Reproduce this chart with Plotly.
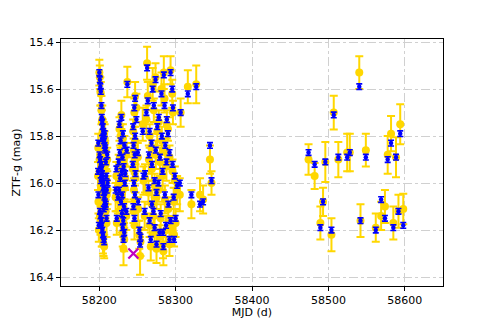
import plotly.graph_objects as go

# MJD of each epoch, ZTF-g (blue, small errors) and the second g-band set (gold)
mjd = [
    58200.2, 58200.8, 58201.5, 58202.1, 58202.9, 58203.4, 58204.0, 58204.6, 58205.3, 58205.9,
    58206.4, 58207.1, 58207.8, 58200.5, 58201.2, 58202.4, 58203.0, 58203.7, 58204.3, 58205.0,
    58205.6, 58206.2, 58206.8, 58207.5, 58208.2, 58200.9, 58201.7, 58202.6, 58203.3, 58204.1,
    58204.9, 58205.7, 58206.5, 58207.2, 58208.0, 58208.7, 58209.3, 58209.9, 58208.5, 58209.6,
    58203.8, 58202.0, 58206.0, 58198.5, 58199.0, 58198.8, 58210.5, 58211.0, 58199.5,
    58236.8, 58229.0, 58226.5, 58231.0, 58228.0, 58233.0, 58227.0, 58230.5, 58225.5, 58232.0,
    58229.5, 58227.5, 58233.5, 58226.0, 58230.0, 58228.5, 58232.5, 58229.8, 58231.5, 58230.8,
    58232.8, 58231.8, 58224.5, 58234.0, 58222.5, 58223.0, 58235.5, 58236.0, 58221.5,
    58247.0, 58246.0, 58248.7, 58244.5, 58247.0, 58245.0, 58246.5, 58244.0, 58247.5, 58245.5,
    58246.8, 58244.8, 58246.2, 58254.0, 58253.5, 58252.5, 58258.0, 58250.5, 58251.0, 58257.0,
    58259.5,
    58262.7, 58273.7, 58284.6, 58293.4, 58295.6, 58263.6, 58271.5, 58285.5, 58296.5, 58261.8,
    58278.0, 58276.0, 58266.0, 58282.0, 58290.0, 58268.5, 58286.5, 58274.0, 58292.0, 58279.5,
    58269.0, 58288.0, 58296.0, 58283.0, 58272.5, 58302.0, 58275.0, 58286.0, 58290.5, 58297.5,
    58271.0, 58280.5, 58266.0, 58272.5, 58279.0, 58283.5, 58292.0, 58275.0, 58284.0, 58298.0,
    58300.0, 58264.5, 58260.0, 58269.0, 58265.0, 58277.5, 58281.5, 58288.5, 58293.5, 58270.0,
    58299.0, 58287.5, 58267.5,
    58306.6, 58305.5, 58316.0, 58320.7, 58327.0, 58332.0, 58336.0, 58345.0, 58347.0,
    58474.0, 58482.0, 58489.5, 58493.0, 58496.0, 58504.0, 58507.0, 58513.0, 58524.6, 58528.0,
    58540.4, 58542.0, 58549.0, 58562.0, 58569.0, 58574.0, 58577.6, 58582.0, 58585.0, 58588.5,
    58591.7, 58594.0, 58598.0,
]

ztf_g = [
    15.53, 15.56, 15.59, 15.61, 15.67, 15.72, 15.74, 15.76, 15.78, 15.80,
    15.82, 15.84, 15.86, 15.88, 15.90, 15.92, 15.94, 15.96, 15.98, 16.00,
    16.02, 16.04, 16.06, 16.08, 16.10, 16.12, 16.14, 16.16, 16.18, 16.20,
    16.22, 16.24, 16.25, 15.79, 15.85, 15.91, 15.97, 16.03, 16.09, 16.15,
    15.81, 15.99, 16.11, 15.95, 16.05, 15.83, 15.88, 16.00, 16.18,
    15.58, 15.72, 15.75, 15.79, 15.82, 15.84, 15.87, 15.89, 15.91, 15.93,
    15.95, 15.98, 16.00, 16.03, 16.05, 16.08, 16.10, 16.13, 16.16, 16.19,
    16.21, 16.24, 16.06, 15.96, 15.94, 16.15, 16.12, 15.86, 16.03,
    15.64, 15.68, 15.73, 15.76, 15.80, 15.84, 15.88, 15.92, 15.96, 16.00,
    16.05, 16.10, 16.15, 16.23, 16.26, 16.20, 15.97, 15.87, 16.08, 15.78,
    16.12,
    15.51, 15.56, 15.54, 15.53, 15.60, 15.65, 15.67, 15.67, 15.68, 15.70,
    15.72, 15.76, 15.78, 15.80, 15.79, 15.83, 15.84, 15.86, 15.87, 15.89,
    15.92, 15.91, 15.92, 15.95, 15.99, 16.01, 16.04, 16.05, 16.09, 16.06,
    16.12, 16.13, 16.16, 16.19, 16.21, 16.21, 16.24, 16.26, 16.27, 16.24,
    16.15, 16.02, 15.96, 16.09, 15.88, 16.00, 15.62, 15.73, 16.16, 15.60,
    15.97, 16.18, 16.24,
    15.70, 16.00, 15.62, 16.05, 15.59, 16.09, 16.08, 15.84, 15.99,
    15.87, 15.92, 16.19, 16.08, 15.91, 16.20, 15.71, 15.89, 15.89, 15.87,
    15.59, 16.16, 15.89, 16.20, 16.07, 16.15, 15.90, 15.83, 16.19, 15.89,
    16.12, 15.79, 16.18,
]
ztf_g_err = 0.012

gold_g = [
    15.53, 15.55, 15.61, 15.62, 15.69, 15.74, 15.73, 15.78, 15.80, 15.79,
    15.85, 15.83, 15.89, 15.90, 15.88, 15.95, 15.93, 15.99, 16.00, 15.98,
    16.05, 16.03, 16.08, 16.10, 16.09, 16.14, 16.16, 16.15, 16.21, 16.22,
    16.24, 16.26, 16.27, 15.81, 15.87, 15.92, 15.99, 16.05, 16.12, 16.17,
    15.84, 16.01, 16.13, 15.97, 16.08, 15.85, 15.90, 16.03, 16.20,
    15.57, 15.71, 15.77, 15.81, 15.80, 15.86, 15.89, 15.91, 15.93, 15.96,
    15.94, 16.00, 16.02, 16.05, 16.04, 16.10, 16.12, 16.15, 16.18, 16.21,
    16.24, 16.28, 16.07, 15.98, 15.97, 16.17, 16.14, 15.88, 16.06,
    15.63, 15.70, 15.68, 15.78, 15.82, 15.86, 15.90, 15.94, 15.98, 16.03,
    16.07, 16.12, 16.18, 16.25, 16.31, 16.22, 15.99, 15.89, 16.11, 15.75,
    16.14,
    15.49, 15.55, 15.53, 15.52, 15.62, 15.63, 15.69, 15.64, 15.70, 15.73,
    15.74, 15.78, 15.80, 15.82, 15.77, 15.85, 15.86, 15.88, 15.89, 15.91,
    15.94, 15.93, 15.95, 15.97, 16.01, 16.03, 16.06, 16.07, 16.11, 16.08,
    16.14, 16.15, 16.18, 16.21, 16.23, 16.26, 16.26, 16.28, 16.29, 16.22,
    16.17, 16.04, 15.98, 16.09, 15.90, 16.03, 15.60, 15.75, 16.19, 15.58,
    15.99, 16.20, 16.27,
    15.70, 16.05, 15.59, 16.09, 15.58, 16.05, 16.07, 15.90, 16.00,
    15.90, 15.97, 16.17, 16.08, 15.91, 16.22, 15.70, 15.90, 15.87, 15.87,
    15.53, 16.16, 15.86, 16.19, 16.14, 16.10, 15.88, 15.79, 16.17, 15.89,
    16.12, 15.75, 16.11,
]

gold_g_err = [
    0.055, 0.05, 0.06, 0.05, 0.06, 0.05, 0.06, 0.05, 0.06, 0.05,
    0.06, 0.05, 0.06, 0.05, 0.06, 0.05, 0.06, 0.05, 0.06, 0.05,
    0.06, 0.05, 0.06, 0.05, 0.06, 0.05, 0.06, 0.05, 0.06, 0.05,
    0.06, 0.05, 0.05, 0.06, 0.05, 0.06, 0.05, 0.06, 0.05, 0.06,
    0.05, 0.06, 0.05, 0.06, 0.05, 0.06, 0.05, 0.06, 0.05,
    0.065, 0.06, 0.05, 0.06, 0.05, 0.06, 0.05, 0.06, 0.05, 0.06,
    0.05, 0.06, 0.05, 0.06, 0.05, 0.06, 0.05, 0.06, 0.05, 0.06,
    0.05, 0.07, 0.06, 0.05, 0.06, 0.05, 0.06, 0.05, 0.06,
    0.06, 0.06, 0.06, 0.05, 0.06, 0.05, 0.06, 0.05, 0.06, 0.05,
    0.06, 0.05, 0.06, 0.06, 0.08, 0.06, 0.06, 0.06, 0.05, 0.07,
    0.06,
    0.07, 0.06, 0.07, 0.06, 0.06, 0.06, 0.05, 0.06, 0.05, 0.06,
    0.05, 0.06, 0.05, 0.06, 0.05, 0.06, 0.05, 0.06, 0.05, 0.06,
    0.05, 0.06, 0.05, 0.06, 0.05, 0.06, 0.05, 0.06, 0.05, 0.06,
    0.05, 0.06, 0.05, 0.06, 0.05, 0.06, 0.05, 0.06, 0.06, 0.05,
    0.06, 0.05, 0.06, 0.06, 0.06, 0.05, 0.07, 0.06, 0.05, 0.07,
    0.06, 0.06, 0.06,
    0.06, 0.07, 0.07, 0.06, 0.08, 0.07, 0.06, 0.06, 0.05,
    0.065, 0.055, 0.07, 0.06, 0.085, 0.07, 0.072, 0.075, 0.08, 0.08,
    0.07, 0.07, 0.07, 0.06, 0.06, 0.07, 0.08, 0.075, 0.07, 0.085,
    0.07, 0.085, 0.065,
]

# single flagged epoch
flag_mjd = [58244.7]
flag_mag = [16.30]

x_ticks = [58200, 58300, 58400, 58500, 58600]
y_ticks = [15.4, 15.6, 15.8, 16.0, 16.2, 16.4]

GOLD = "#FFD700"
BLUE = "#0000FF"
FONT = "DejaVu Sans"

fig = go.Figure()
fig.add_trace(go.Scatter(
    x=mjd, y=gold_g, mode="markers",
    marker=dict(color=GOLD, size=8),
    error_y=dict(type="data", array=gold_g_err, color=GOLD, thickness=2, width=4),
    showlegend=False,
))
fig.add_trace(go.Scatter(
    x=mjd, y=ztf_g, mode="markers",
    marker=dict(color=BLUE, size=4.5),
    error_y=dict(type="constant", value=ztf_g_err, color=BLUE, thickness=1.6, width=3),
    showlegend=False,
))
fig.add_trace(go.Scatter(
    x=flag_mjd, y=flag_mag, mode="markers",
    marker=dict(symbol="x-thin", size=10, line=dict(color="#BF00BF", width=2.2)),
    showlegend=False,
))

axis_common = dict(
    showline=True, linecolor="black", linewidth=1, mirror=True,
    ticks="outside", ticklen=4, tickwidth=1, tickcolor="black",
    showgrid=True, gridcolor="#d0d0d0", griddash="dashdot", gridwidth=1,
    zeroline=False, automargin=False,
    tickfont=dict(family=FONT, size=11, color="black"),
)

# the page body has an 8px margin, so the figure is a bit smaller and shifted
fig.update_layout(
    width=476, height=311,
    margin=dict(l=53, r=41, t=31, b=33),
    paper_bgcolor="white", plot_bgcolor="white",
    font=dict(family=FONT, size=11, color="black"),
    xaxis=dict(
        range=[58150, 58650], tickvals=x_ticks, tickformat="d",
        title=dict(text="MJD (d)", font=dict(family=FONT, size=11), standoff=4),
        **axis_common,
    ),
    yaxis=dict(
        range=[16.438, 15.387], tickvals=y_ticks, tickformat=".1f",
        title=dict(text="ZTF-g (mag)", font=dict(family=FONT, size=11), standoff=6),
        **axis_common,
    ),
)

fig.write_html("out.html")
